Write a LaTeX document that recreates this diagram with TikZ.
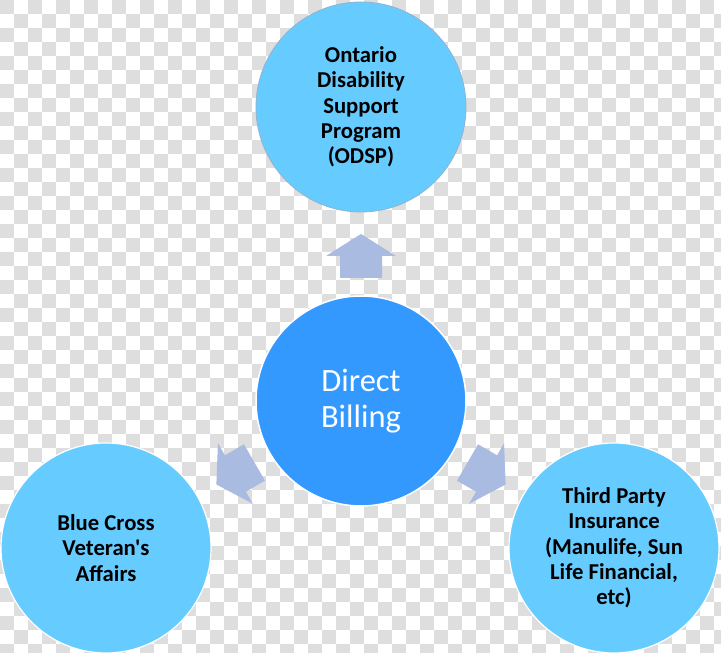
\documentclass[tikz,border=0pt]{standalone}
\usepackage{fontspec}
\setmainfont{Carlito}[Ligatures=TeXOff]
\definecolor{checkgray}{HTML}{DEDEDE}
\definecolor{lightblue}{HTML}{66CCFF}
\definecolor{midblue}{HTML}{3399FF}
\definecolor{arrowblue}{HTML}{AABBE1}
\definecolor{rimblue}{HTML}{8FB3D0}
\tikzset{
  outer/.style={circle, minimum size=210pt, inner sep=0pt, fill=lightblue, draw=white, line width=1.2pt,
    align=center, text=black, font=\bfseries\fontsize{22.7}{25.3}\selectfont},
  hub/.style={circle, minimum size=210pt, inner sep=0pt, fill=midblue, draw=white, line width=1.5pt,
    align=center, text=white, font=\fontsize{32.5}{35.5}\selectfont},
  blockarrow/.style={fill=arrowblue, draw=none}
}
\begin{document}
\begin{tikzpicture}[x=1pt,y=1pt]
\useasboundingbox (0,0) rectangle (721,653);
\fill[white] (0,0) rectangle (721,653);
\begin{scope}
\clip (0,0) rectangle (721,653);
\foreach \j in {0,...,46} {
  \pgfmathsetmacro\ph{mod(\j,2)*14}
  \draw[checkgray, line width=14pt, dash pattern=on 14pt off 14pt, dash phase=\ph pt]
    (0,{653-14*\j-7}) -- (735,{653-14*\j-7});
}
\end{scope}

\node[hub] (hub) at (361,252) {Direct\\Billing};
\node[outer, draw=rimblue, line width=0.8pt] (odsp) at (361,546) {Ontario\\Disability\\Support\\Program\\(ODSP)};
\node[outer] (blue) at (106,105) {Blue Cross\\Veteran's\\Affairs};
\node[outer] (third) at (614,105) {Third Party\\Insurance\\(Manulife, Sun\\Life Financial,\\etc)};

\foreach \r in {0,120,-120} {
  \begin{scope}[shift={(hub.center)}, rotate=\r]
    \fill[blockarrow] (-21,123) -- (21,123) -- (21,145) -- (35,145) -- (0,167)
      -- (-35,145) -- (-21,145) -- cycle;
  \end{scope}
}
\end{tikzpicture}
\end{document}
